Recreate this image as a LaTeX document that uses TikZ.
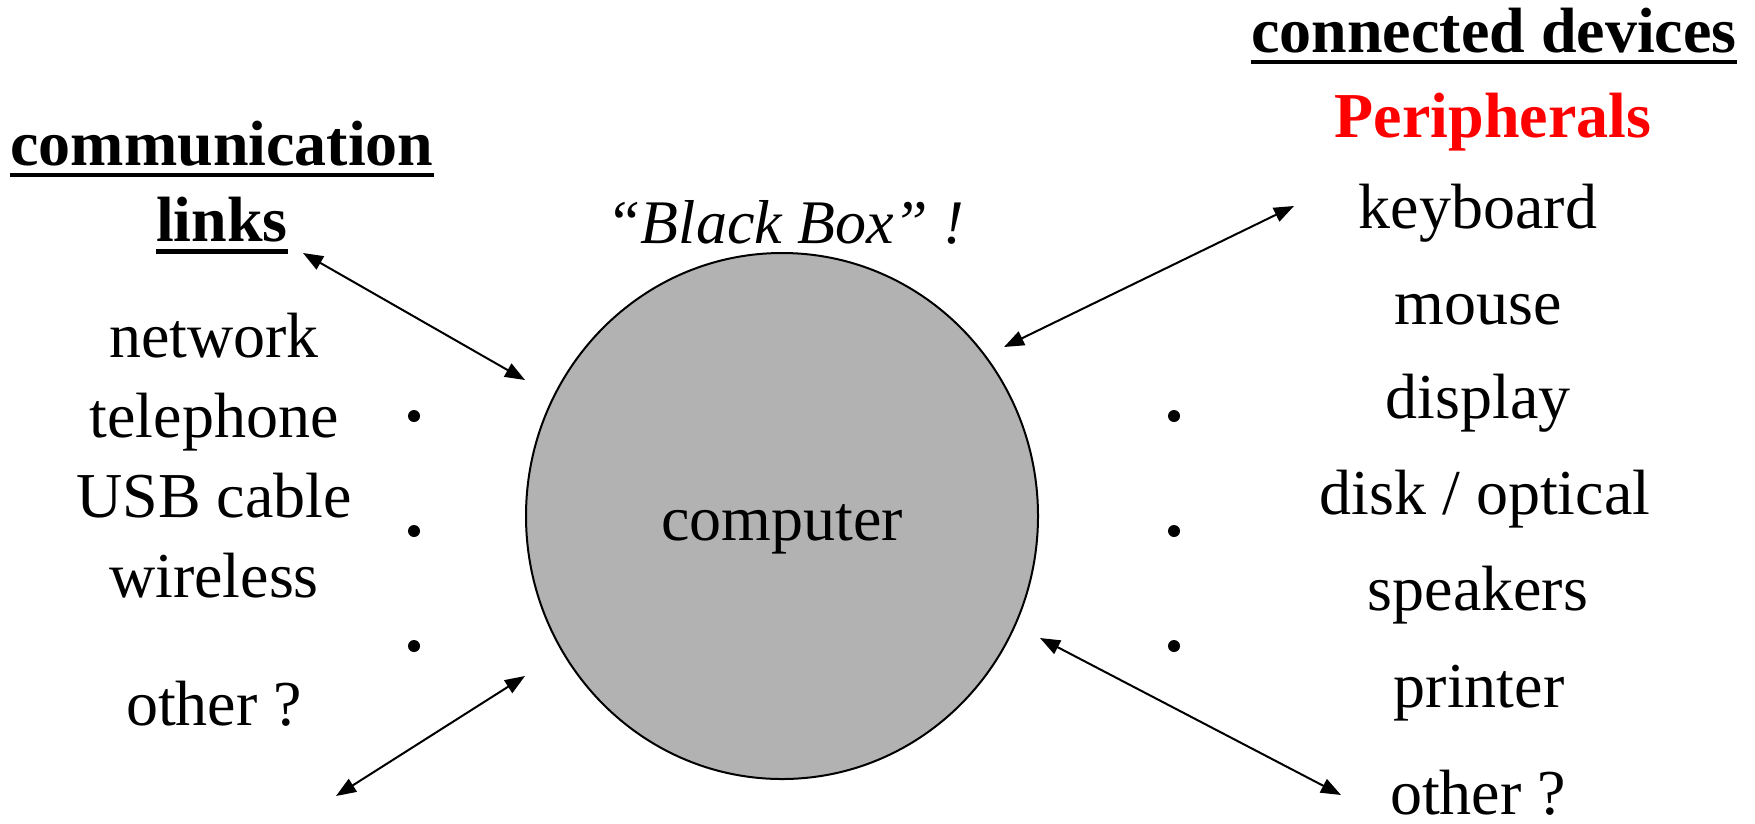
\documentclass[tikz,border=0pt]{standalone}
\usepackage{fontspec}
\setmainfont{Liberation Serif}
\usetikzlibrary{arrows.meta,shapes.geometric}
\begin{document}
\begin{tikzpicture}[x=1pt,y=-1pt,
  txt/.style={anchor=base, inner sep=0pt, font=\fontsize{64}{76}\selectfont},
  head/.style={anchor=base, inner sep=0pt, font=\fontsize{64}{76}\selectfont\bfseries},
  uline/.style={line width=4.5pt},
  link/.style={line width=2pt, {Triangle[length=20pt,width=15pt]}-{Triangle[length=20pt,width=15pt]}},
  dot/.style={circle, fill=black, inner sep=0pt, minimum size=12pt},
  box/.style={ellipse, draw=black, line width=2pt, fill=boxgray, inner sep=0pt}]
\definecolor{boxgray}{HTML}{B2B2B2}
\definecolor{perired}{HTML}{FF0000}
\useasboundingbox (0,0) rectangle (1755,823);

% the computer
\node[box, minimum width=512pt, minimum height=526pt] (comp) at (782,516) {};
\node[txt] (comptext) at (782,540) {computer};
\node[txt, font=\fontsize{62}{74}\selectfont\itshape] (bb) at (785.5,243) {“Black Box” !};

% left column: communication links
\node[head] (comm) at (222,165) {communication};
\node[head] (links) at (222,241.5) {links};
\draw[uline] ([yshift=-10pt]comm.base west) -- ([yshift=-10pt]comm.base east);
\draw[uline] ([yshift=-10pt]links.base west) -- ([yshift=-10pt]links.base east);
\node[txt] (network) at (214,357) {network};
\node[txt] (telephone) at (214,437) {telephone};
\node[txt] (usb) at (214,517) {USB cable};
\node[txt] (wireless) at (214,597) {wireless};
\node[txt] (lother) at (214,725) {other ?};
\node[dot] (ld1) at (414,416) {};
\node[dot] (ld2) at (414,531) {};
\node[dot] (ld3) at (414,646) {};

% right column: connected devices
\node[head] (conn) at (1494,52) {connected devices};
\draw[uline] ([yshift=-10pt]conn.base west) -- ([yshift=-10pt]conn.base east);
\node[head, text=perired] (peri) at (1493,137) {Peripherals};
\node[txt] (keyboard) at (1478,228) {keyboard};
\node[txt] (mouse) at (1478,324) {mouse};
\node[txt] (display) at (1478,418) {display};
\node[txt] (disk) at (1485,514) {disk / optical};
\node[txt] (speakers) at (1478,610) {speakers};
\node[txt] (printer) at (1479,707) {printer};
\node[txt] (rother) at (1478,814) {other ?};
\node[dot] (rd1) at (1174,416) {};
\node[dot] (rd2) at (1174,531) {};
\node[dot] (rd3) at (1174,646) {};

% two-way links
\coordinate (l1a) at (303,253);
\coordinate (l1b) at (525,380);
\coordinate (l2a) at (336,796);
\coordinate (l2b) at (525,676);
\coordinate (r1a) at (1004,347);
\coordinate (r1b) at (1294,206);
\coordinate (r2a) at (1040,638);
\coordinate (r2b) at (1341,795);
\draw[link] (l1a) -- (l1b);
\draw[link] (l2a) -- (l2b);
\draw[link] (r1a) -- (r1b);
\draw[link] (r2a) -- (r2b);
\end{tikzpicture}
\end{document}
